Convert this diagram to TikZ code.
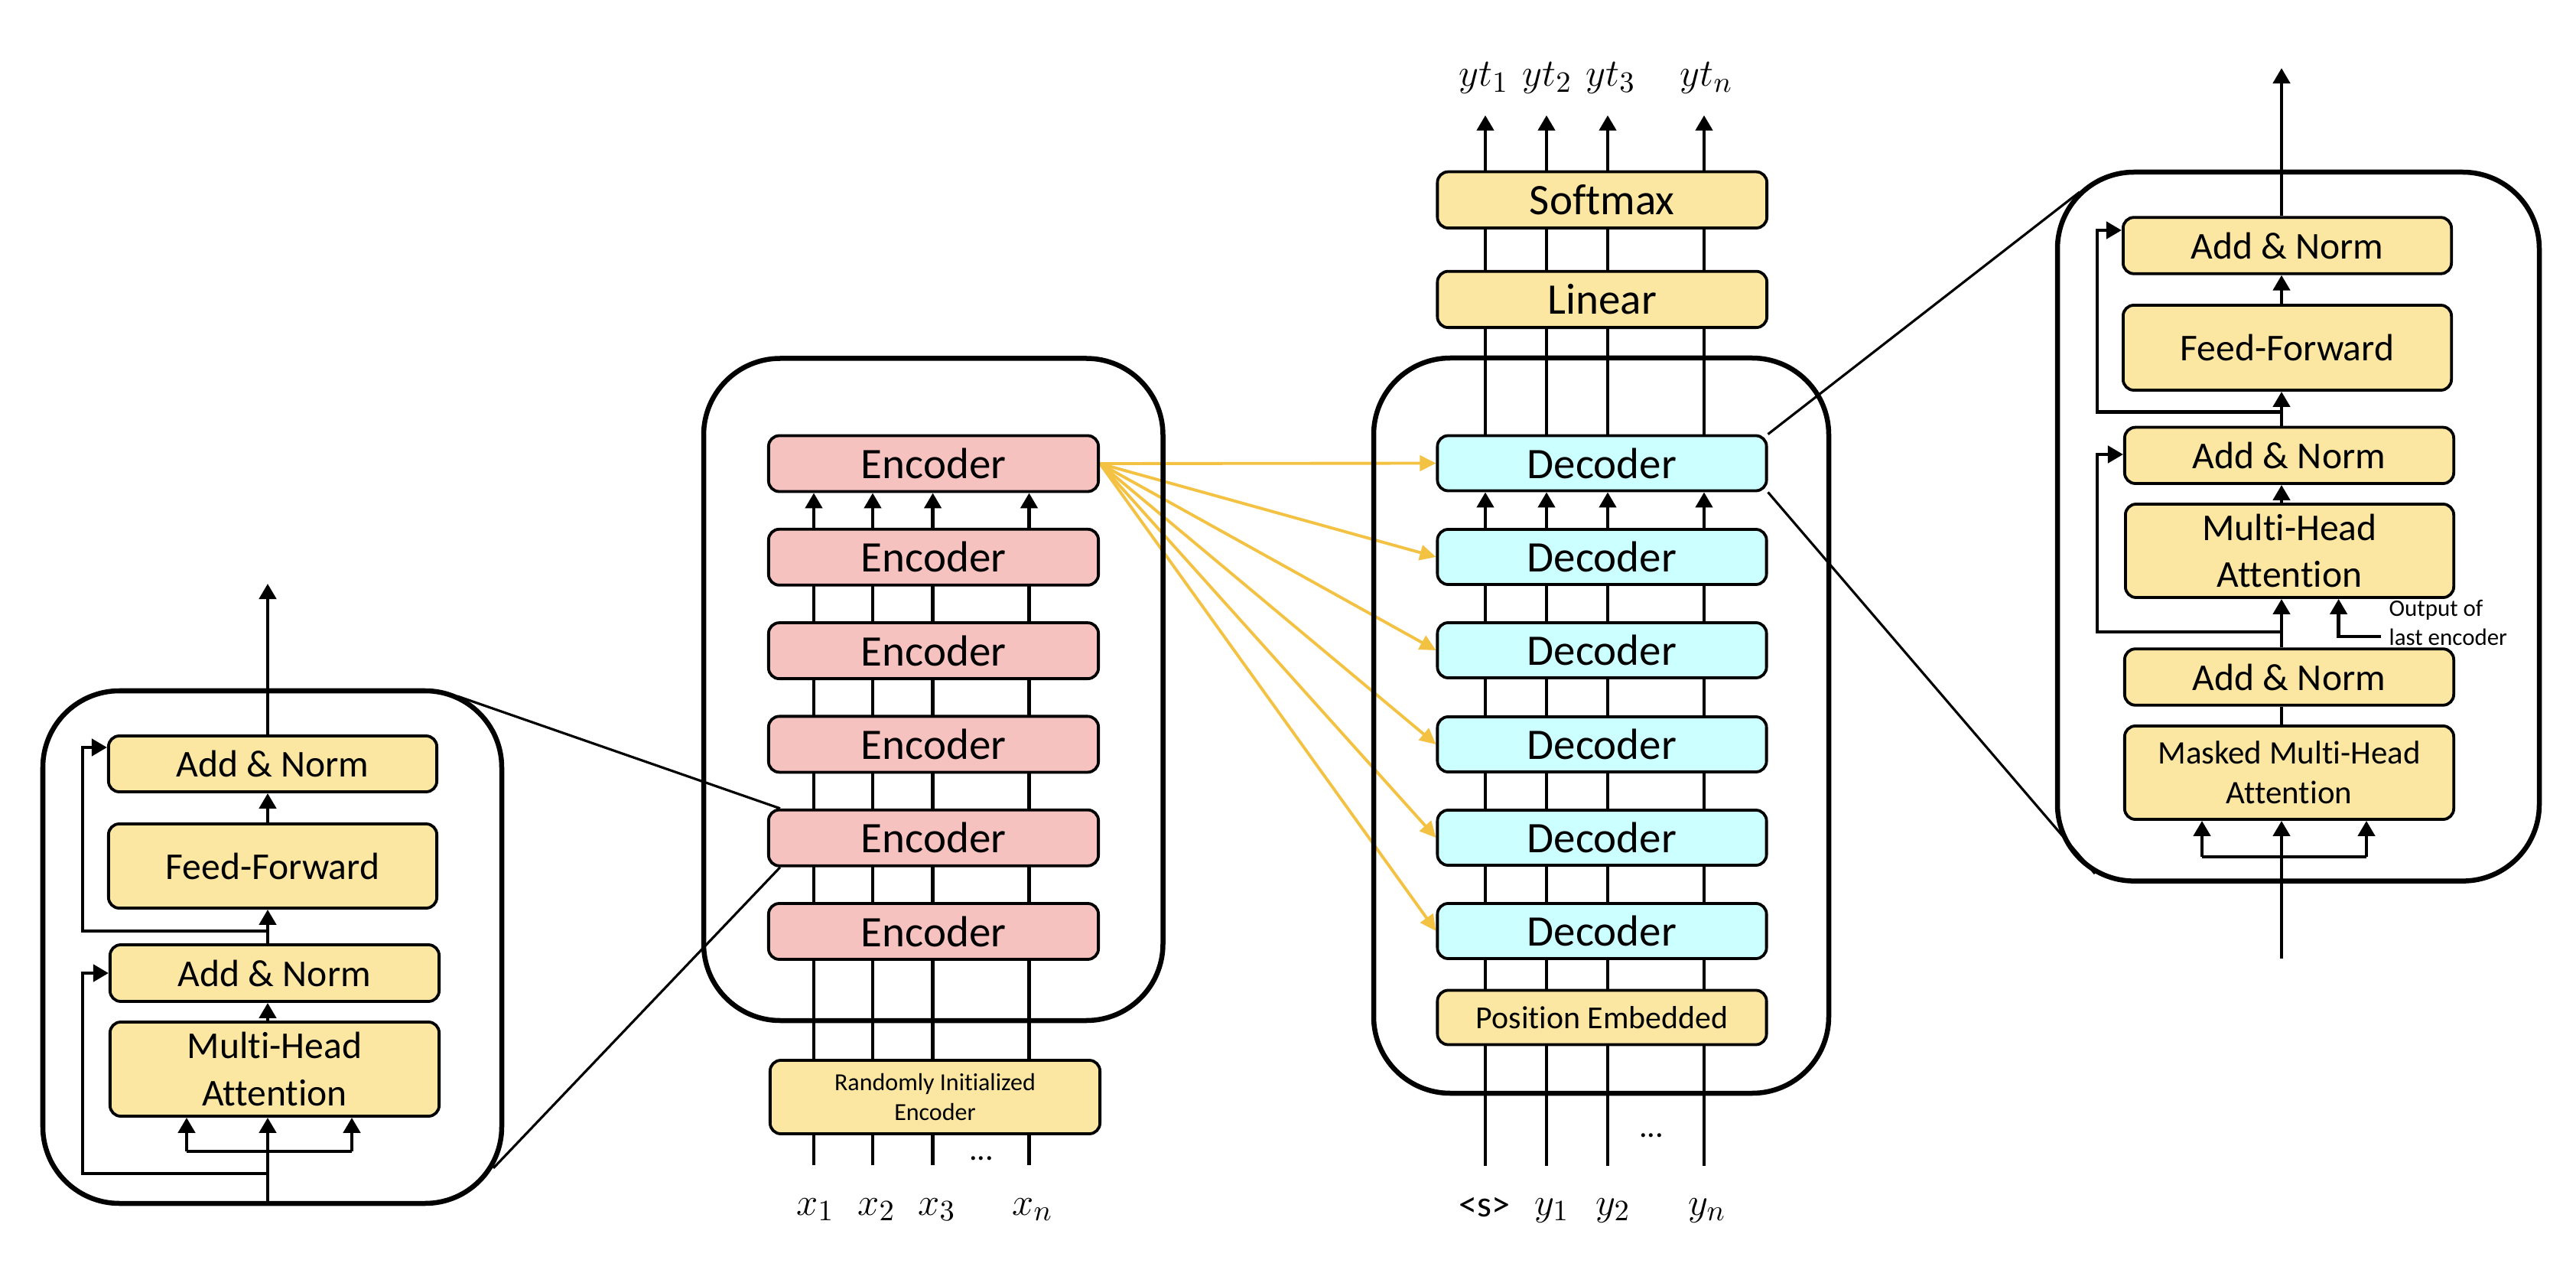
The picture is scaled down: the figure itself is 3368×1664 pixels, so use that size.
\documentclass[tikz,border=0pt]{standalone}
\usepackage{fontspec}
\setmainfont{Carlito}[Ligatures=NoCommon]
\usetikzlibrary{arrows.meta,backgrounds,calc}
\definecolor{boxyellow}{HTML}{FBE6A2}
\definecolor{encpink}{HTML}{F5C2C0}
\definecolor{deccyan}{HTML}{CCFFFF}
\definecolor{arrowgold}{HTML}{F4C242}
\begin{document}
\begin{tikzpicture}[x=0.01cm,y=-0.01cm,
  blk/.style={draw=black, line width=1.08pt, rounded corners=0.14cm, inner sep=0pt, align=center},
  ybox/.style={blk, fill=boxyellow},
  bigfont/.style={font=\fontsize{16.2}{19.8}\selectfont},
  midfont/.style={font=\fontsize{14.1}{17.4}\selectfont},
  enc/.style={blk, bigfont, fill=encpink, minimum height=0.73cm, minimum width=4.31cm},
  dec/.style={blk, bigfont, fill=deccyan, minimum height=0.72cm, minimum width=4.30cm},
  outerbox/.style={draw=black, line width=1.85pt, rounded corners=1cm},
  ln/.style={line width=1.28pt},
  arr/.style={ln, -{Triangle[length=0.2cm,width=0.22cm]}},
  garr/.style={draw=arrowgold, line width=1.1pt, -{Triangle[length=0.21cm,width=0.2cm]}},
  zoomln/.style={line width=0.9pt},
  mathlab/.style={font=\fontsize{15}{18}\selectfont, anchor=base, inner sep=0pt}
]
\useasboundingbox (0,0) rectangle (3368,1664);

% ---------------- Left block (encoder detail) ----------------
\draw[outerbox] (56,903) rectangle (656,1573);
\node[ybox, midfont, minimum width=4.29cm, minimum height=0.73cm] (LAN1) at (356.5,998.5) {Add \& Norm};
\node[ybox, midfont, minimum width=4.29cm, minimum height=1.10cm] (LFF) at (356.5,1132) {Feed-Forward};
\node[ybox, midfont, minimum width=4.30cm, minimum height=0.74cm] (LAN2) at (359,1272) {Add \& Norm};
\node[ybox, midfont, minimum width=4.30cm, minimum height=1.23cm] (LMHA) at (359,1397.5) {Multi-Head\\Attention};

\coordinate (lc) at (350,0);
\coordinate (Lin) at (350,1573);
\coordinate (Lb1) at (244,1505);
\coordinate (Lb2) at (460,1505);
\coordinate (Lr1) at (350,1534);
\coordinate (Lt1) at (108,1272);
\coordinate (Lr2) at (350,1217);
\coordinate (Lt2) at (108,977);
\coordinate (Lout) at (350,763);

\draw[arr] (Lin) -- (Lin |- LMHA.south);
\draw[ln] (Lb1) -- (Lb2);
\draw[arr] (Lb1) -- (Lb1 |- LMHA.south);
\draw[arr] (Lb2) -- (Lb2 |- LMHA.south);
\draw[arr] (Lr1) -| (Lt1) -- (Lt1 -| LAN2.west);
\draw[arr] (lc |- LMHA.north) -- (lc |- LAN2.south);
\draw[arr] (lc |- LAN2.north) -- (lc |- LFF.south);
\draw[arr] (Lr2) -| (Lt2) -- (Lt2 -| LAN1.west);
\draw[arr] (lc |- LFF.north) -- (lc |- LAN1.south);
\draw[arr] (lc |- LAN1.north) -- (Lout);

% ---------------- Encoder stack ----------------
\foreach \i/\y in {1/606,2/728.3,3/850.6,4/972.9,5/1095.2,6/1217.5}{
  \node[enc] (E\i) at (1220.5,\y) {Encoder};
}
\node[ybox, font=\fontsize{9.1}{11.1}\selectfont, minimum width=4.31cm, minimum height=0.96cm] (RIE) at (1222.5,1434) {Randomly Initialized\\Encoder};
\node[font=\fontsize{12}{14}\selectfont, anchor=base, inner sep=0pt] (Edots) at (1283,1516) {...};

\node[mathlab] (x1) at (1066,1588) {$x_1$};
\node[mathlab] (x2) at (1146,1588) {$x_2$};
\node[mathlab] (x3) at (1225,1588) {$x_3$};
\node[mathlab] (xn) at (1350,1588) {$x_n$};

% ---------------- Decoder stack ----------------
\node[ybox, bigfont, minimum width=4.305cm, minimum height=0.734cm] (SM) at (2094.75,261.3) {Softmax};
\node[ybox, bigfont, minimum width=4.305cm, minimum height=0.734cm] (LIN) at (2094.75,391.4) {Linear};
\foreach \i/\y in {1/605.5,2/728,3/850,4/973,5/1095,6/1217}{
  \node[dec] (D\i) at (2094.5,\y) {Decoder};
}
\node[ybox, font=\fontsize{11.9}{14}\selectfont, minimum width=4.30cm, minimum height=0.71cm] (PE) at (2094.5,1330) {Position Embedded};
\node[font=\fontsize{12}{14}\selectfont, anchor=base, inner sep=0pt] (Ddots) at (2159,1486) {...};

\node[mathlab] (yt1) at (1940,113) {$yt_1$};
\node[mathlab] (yt2) at (2023,113) {$yt_2$};
\node[mathlab] (yt3) at (2106,113) {$yt_3$};
\node[mathlab] (ytn) at (2231,113) {$yt_n$};

\node[font=\fontsize{13.7}{16}\selectfont, anchor=base, inner sep=0pt] (s0) at (1941,1590) {<s>};
\node[mathlab] (y1) at (2029,1588) {$y_1$};
\node[mathlab] (y2) at (2109,1588) {$y_2$};
\node[mathlab] (yn) at (2232,1588) {$y_n$};

% ---------------- Right block (decoder detail) ----------------
\node[ybox, midfont, minimum width=4.29cm, minimum height=0.735cm] (RAN1) at (2990.5,321) {Add \& Norm};
\node[ybox, midfont, minimum width=4.29cm, minimum height=1.11cm] (RFF) at (2990.5,454.5) {Feed-Forward};
\node[ybox, midfont, minimum width=4.30cm, minimum height=0.734cm] (RAN2) at (2993,595.3) {Add \& Norm};
\node[ybox, midfont, minimum width=4.29cm, minimum height=1.22cm] (RMHA) at (2993.5,720) {Multi-Head\\Attention};
\node[ybox, midfont, minimum width=4.30cm, minimum height=0.735cm] (RAN3) at (2993,885) {Add \& Norm};
\node[ybox, font=\fontsize{12.2}{14.7}\selectfont, minimum width=4.30cm, minimum height=1.22cm] (RMMHA) at (2993,1010) {Masked Multi-Head\\Attention};
\node[font=\fontsize{8.8}{10.7}\selectfont, align=left, anchor=west, inner sep=0pt] (OUT) at (3123,814) {Output of\\last encoder};

\coordinate (rc) at (2983,0);
\coordinate (Rin) at (2983,1253);
\coordinate (Rb1) at (2879,1120);
\coordinate (Rb2) at (3094,1120);
\coordinate (Rr1) at (2983,826);
\coordinate (Rt1) at (2742,594);
\coordinate (Rr2) at (2983,538.5);
\coordinate (Rt2) at (2742,301);
\coordinate (Rout) at (2983,89);
\coordinate (Rost) at (3113,832);
\coordinate (Ro) at (3057.6,0);

\draw[arr] (Rin) -- (rc |- RMMHA.south);
\draw[ln] (Rb1) -- (Rb2);
\draw[arr] (Rb1) -- (Rb1 |- RMMHA.south);
\draw[arr] (Rb2) -- (Rb2 |- RMMHA.south);
\draw[ln] (rc |- RMMHA.north) -- (rc |- RAN3.south);
\draw[arr] (rc |- RAN3.north) -- (rc |- RMHA.south);
\draw[arr] (Rr1) -| (Rt1) -- (Rt1 -| RAN2.west);
\draw[arr] (Rost) -| (Ro |- RMHA.south);
\draw[arr] (rc |- RMHA.north) -- (rc |- RAN2.south);
\draw[arr] (rc |- RAN2.north) -- (rc |- RFF.south);
\draw[arr] (Rr2) -| (Rt2) -- (Rt2 -| RAN1.west);
\draw[arr] (rc |- RFF.north) -- (rc |- RAN1.south);
\draw[arr] (rc |- RAN1.north) -- (Rout);

% ---------------- Background: stack lines, yellow arrows, outer boxes ----------------
\begin{scope}[on background layer]
  \foreach \i/\x in {1/1064,2/1141,3/1219.6,4/1345.5}{
    \coordinate (eb\i) at (\x,1523);
    \draw[arr] (eb\i) -- (eb\i |- E1.south);
  }
  \foreach \i/\x in {1/1942,2/2022,3/2102,4/2228}{
    \coordinate (db\i) at (\x,1524);
    \coordinate (dt\i) at (\x,150.7);
    \draw[arr] (db\i) -- (db\i |- D1.south);
    \draw[arr] (dt\i |- D1.north) -- (dt\i);
  }
  \foreach \i in {1,...,6}{
    \draw[garr] (E1.east) -- (D\i.west);
  }
  \draw[outerbox] (920,468.5) rectangle (1520.5,1334);
  \draw[outerbox] (1796,468) rectangle (2391,1429);
  \draw[outerbox] (2690,225) rectangle (3320,1151.6);
\end{scope}

% ---------------- Zoom lines ----------------
\coordinate (Lz1) at (598,910);
\coordinate (Lz2) at (645,1527);
\coordinate (Rz1) at (2719,251);
\coordinate (Rz2) at (2739,1142);
\draw[zoomln] (Lz1) -- ([xshift=0.17cm]E5.north west);
\draw[zoomln] (Lz2) -- ([xshift=0.17cm]E5.south west);
\draw[zoomln] (D1.north east) -- (Rz1);
\draw[zoomln] (D1.south east) -- (Rz2);
\end{tikzpicture}
\end{document}
